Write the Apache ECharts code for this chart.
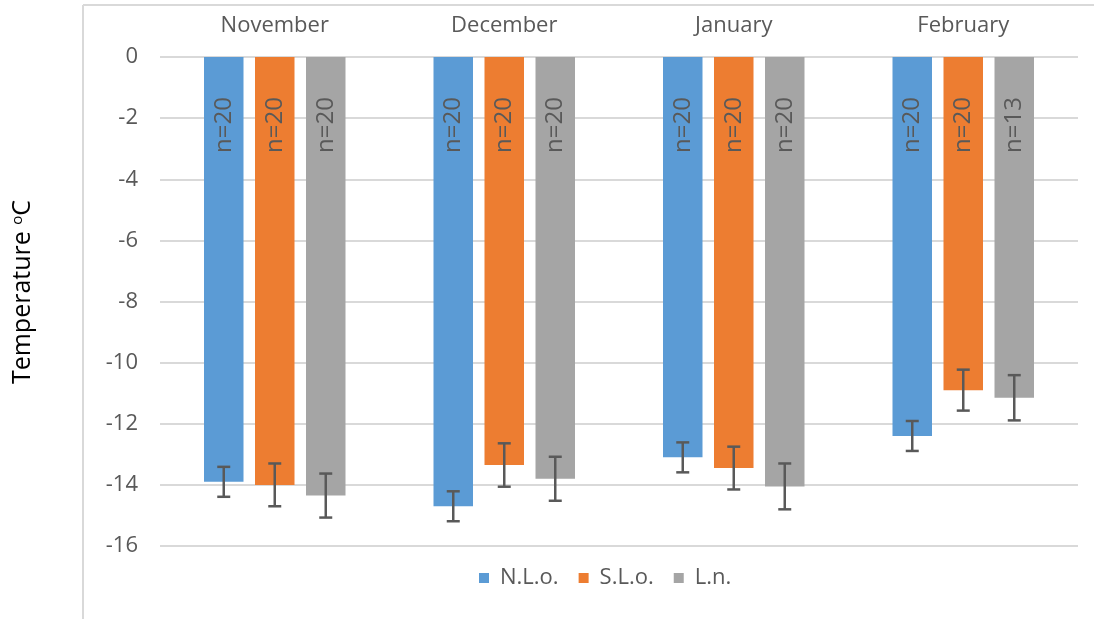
<!DOCTYPE html>
<html>
<head>
<meta charset="utf-8">
<script src="https://cdn.jsdelivr.net/npm/echarts@6/dist/echarts.min.js"></script>
<style>
  html, body { margin: 0; padding: 0; background: #fff; }
  #chart { width: 1094px; height: 619px; }
</style>
</head>
<body>
<div id="chart"></div>
<script>
// months along the top axis
const categories = ['November', 'December', 'January', 'February']
const seriesNames = ['N.L.o.', 'S.L.o.', 'L.n.']

// mean temperature (°C) per site
const nloMean = [-13.9, -14.7, -13.1, -12.4]
const sloMean = [-14.0, -13.35, -13.45, -10.9]
const lnMean = [-14.35, -13.8, -14.05, -11.15]

// error bar half-lengths
const nloErr = [0.49, 0.49, 0.49, 0.49]
const sloErr = [0.7, 0.71, 0.7, 0.67]
const lnErr = [0.72, 0.72, 0.75, 0.74]

// sample sizes shown inside bars
const nloN = [20, 20, 20, 20]
const sloN = [20, 20, 20, 20]
const lnN = [20, 20, 20, 13]

// y axis ticks
const yMin = -16
const yMax = 0
const yStep = 2

const colors = ['#5B9BD5', '#ED7D31', '#A5A5A5']
const textColor = '#595959'
const gridColor = '#D9D9D9'
const font = 'Open Sans'

const BAR_W = 39.5
const BAR_GAP = 11.5

const means = [nloMean, sloMean, lnMean]
const errs = [nloErr, sloErr, lnErr]
const counts = [nloN, sloN, lnN]

const chart = echarts.init(document.getElementById('chart'), null, { renderer: 'canvas' })

function barSeries(i) {
  return {
    name: seriesNames[i],
    type: 'bar',
    barWidth: BAR_W,
    barGap: (BAR_GAP / BAR_W * 100) + '%',
    itemStyle: { color: colors[i] },
    label: {
      show: true,
      position: 'insideTop',
      distance: 40,
      rotate: 90,
      align: 'right',
      verticalAlign: 'middle',
      color: textColor,
      fontFamily: font,
      fontSize: 24,
      formatter: (p) => 'n=' + counts[i][p.dataIndex],
    },
    data: means[i],
  }
}

function errorSeries(i) {
  const offset = (i - 1) * (BAR_W + BAR_GAP)
  return {
    type: 'custom',
    z: 5,
    encode: { x: 0, y: 1 },
    data: means[i].map((m, k) => [k, m, errs[i][k]]),
    renderItem(params, api) {
      const cat = api.value(0)
      const m = api.value(1)
      const e = api.value(2)
      const x = api.coord([cat, m])[0] + offset
      const hi = api.coord([cat, m + e])[1]
      const lo = api.coord([cat, m - e])[1]
      const cap = 6.5
      const style = { stroke: textColor, lineWidth: 2.5 }
      return {
        type: 'group',
        children: [
          { type: 'line', shape: { x1: x, y1: hi, x2: x, y2: lo }, style },
          { type: 'line', shape: { x1: x - cap, y1: hi, x2: x + cap, y2: hi }, style },
          { type: 'line', shape: { x1: x - cap, y1: lo, x2: x + cap, y2: lo }, style },
        ],
      }
    },
  }
}

chart.setOption({
  animation: false,
  grid: { left: 160, right: 16, top: 57, bottom: 73 },
  legend: {
    data: seriesNames,
    bottom: 25,
    left: 474,
    itemWidth: 10,
    itemHeight: 10,
    itemGap: 20,
    icon: 'rect',
    textStyle: { color: textColor, fontFamily: font, fontSize: 22, padding: [0, 0, 0, 6] },
  },
  xAxis: {
    type: 'category',
    position: 'top',
    data: categories,
    axisLine: { show: false },
    axisTick: { show: false },
    axisLabel: { color: textColor, fontFamily: font, fontSize: 22, margin: 20 },
  },
  yAxis: {
    type: 'value',
    min: yMin,
    max: yMax,
    interval: yStep,
    axisLine: { show: false },
    axisTick: { show: false },
    axisLabel: { color: textColor, fontFamily: font, fontSize: 22, margin: 22 },
    splitLine: { lineStyle: { color: gridColor, width: 2 } },
  },
  graphic: [
    { type: 'line', shape: { x1: 83, y1: 5, x2: 83, y2: 619 }, style: { stroke: gridColor, lineWidth: 2 } },
    { type: 'line', shape: { x1: 83, y1: 5, x2: 1094, y2: 5 }, style: { stroke: gridColor, lineWidth: 2 } },
    {
      type: 'text',
      x: 23,
      y: 292,
      rotation: Math.PI / 2,
      style: {
        text: 'Temperature {s|o}C',
        fill: '#000',
        fontFamily: font,
        fontSize: 25,
        align: 'center',
        verticalAlign: 'middle',
        rich: { s: { fontSize: 15, verticalAlign: 'top', fill: '#000', fontFamily: font } },
      },
    },
  ],
  series: [0, 1, 2].map(barSeries).concat([0, 1, 2].map(errorSeries)),
})
</script>
</body>
</html>
